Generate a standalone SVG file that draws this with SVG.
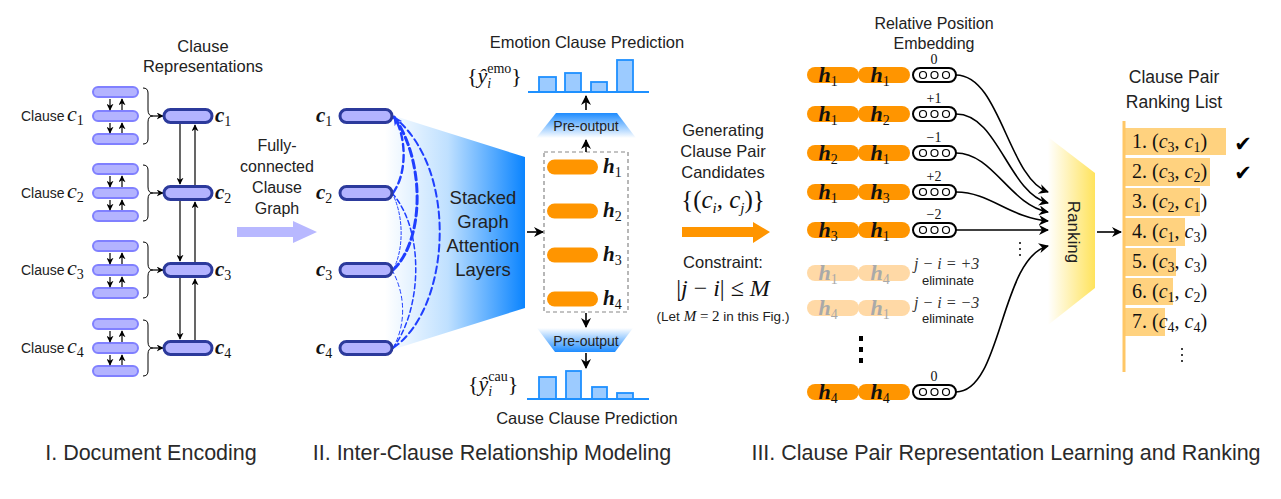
<svg xmlns="http://www.w3.org/2000/svg" width="1281" height="499" viewBox="0 0 1281 499">
<style>
.sans{font-family:"Liberation Sans",Arial,sans-serif;fill:#222}
.serif{font-family:"Liberation Serif","Times New Roman",serif;fill:#111}
.it{font-style:italic}
.bi{font-style:italic;font-weight:bold}
.small{fill:#b3b3ff;stroke:#8080ff;stroke-width:2}
.big{fill:#b3b3ff;stroke:#2c3a9c;stroke-width:3}
.ar{fill:none;stroke:#000;stroke-width:1.2;marker-end:url(#ah)}
.ar2{fill:none;stroke:#000;stroke-width:1.6;marker-end:url(#ah2)}
.dash{fill:none;stroke:#1f3fff;stroke-linecap:round}
.opill{fill:#ff9500}
.fpill{fill:#ffd9a6}
.emb{fill:#fff;stroke:#000;stroke-width:2}
.dot{fill:#fff;stroke:#000;stroke-width:1.2}
.bar{fill:#9ccbff;stroke:#1e90ff;stroke-width:1.8}
.rbar{fill:#ffd27f}
</style>
<defs>
<marker id="ah" viewBox="0 0 10 10" refX="9" refY="5" markerWidth="7" markerHeight="7" markerUnits="userSpaceOnUse" orient="auto"><path d="M0,0 L10,5 L0,10 L3,5 z" fill="#000"/></marker>
<marker id="ah2" viewBox="0 0 10 10" refX="9" refY="5" markerWidth="10" markerHeight="10" markerUnits="userSpaceOnUse" orient="auto"><path d="M0,0 L10,5 L0,10 L3,5 z" fill="#000"/></marker>
<marker id="ahb" viewBox="0 0 10 10" refX="9" refY="5" markerWidth="9" markerHeight="9" markerUnits="userSpaceOnUse" orient="auto"><path d="M0,0 L10,5 L0,10 L3,5 z" fill="#1f3fff"/></marker>
<linearGradient id="gat" gradientUnits="userSpaceOnUse" x1="385" y1="0" x2="525" y2="0"><stop offset="0" stop-color="#ffffff"/><stop offset="0.45" stop-color="#bfe0ff"/><stop offset="1" stop-color="#0a84ff"/></linearGradient>
<linearGradient id="preT" x1="0" y1="0" x2="0" y2="1"><stop offset="0" stop-color="#1e8cff"/><stop offset="1" stop-color="#ffffff"/></linearGradient>
<linearGradient id="preB" x1="0" y1="0" x2="0" y2="1"><stop offset="0" stop-color="#ffffff"/><stop offset="1" stop-color="#1e8cff"/></linearGradient>
<linearGradient id="rk" x1="0" y1="0" x2="1" y2="0"><stop offset="0" stop-color="#ffffff"/><stop offset="1" stop-color="#ffe35c"/></linearGradient>
</defs>

<!-- Section I -->
<g id="clause-rep-title">
<text class="sans" x="203" y="52" font-size="16.5" text-anchor="middle">Clause</text>
<text class="sans" x="203" y="72" font-size="16.5" text-anchor="middle">Representations</text>
</g>
<g id="clause1">
<text class="sans" x="21" y="121" font-size="14">Clause</text>
<text class="serif it" x="67" y="121" font-size="22">c<tspan font-size="14" font-style="normal" dy="4">1</tspan></text>
<rect class="small" x="93" y="87" width="45" height="10" rx="5"/>
<rect class="small" x="93" y="111" width="45" height="10" rx="5"/>
<rect class="small" x="93" y="134" width="45" height="10" rx="5"/>
<path class="ar" d="M110,99 V110"/><path class="ar" d="M122,110 V99"/>
<path class="ar" d="M110,123 V133"/><path class="ar" d="M122,133 V123"/>
<path d="M143,88 q5,0 5,5 v17 q0,6 5,6 q-5,0 -5,6 v17 q0,5 -5,5" fill="none" stroke="#000" stroke-width="1"/>
<path class="ar" d="M153,116 H163"/>
</g>
<g id="clause2">
<text class="sans" x="21" y="198" font-size="14">Clause</text>
<text class="serif it" x="67" y="198" font-size="22">c<tspan font-size="14" font-style="normal" dy="4">2</tspan></text>
<rect class="small" x="93" y="164" width="45" height="10" rx="5"/>
<rect class="small" x="93" y="188" width="45" height="10" rx="5"/>
<rect class="small" x="93" y="211" width="45" height="10" rx="5"/>
<path class="ar" d="M110,176 V187"/><path class="ar" d="M122,187 V176"/>
<path class="ar" d="M110,200 V210"/><path class="ar" d="M122,210 V200"/>
<path d="M143,165 q5,0 5,5 v17 q0,6 5,6 q-5,0 -5,6 v17 q0,5 -5,5" fill="none" stroke="#000" stroke-width="1"/>
<path class="ar" d="M153,193 H163"/>
</g>
<g id="clause3">
<text class="sans" x="21" y="275" font-size="14">Clause</text>
<text class="serif it" x="67" y="275" font-size="22">c<tspan font-size="14" font-style="normal" dy="4">3</tspan></text>
<rect class="small" x="93" y="241" width="45" height="10" rx="5"/>
<rect class="small" x="93" y="265" width="45" height="10" rx="5"/>
<rect class="small" x="93" y="288" width="45" height="10" rx="5"/>
<path class="ar" d="M110,253 V264"/><path class="ar" d="M122,264 V253"/>
<path class="ar" d="M110,277 V287"/><path class="ar" d="M122,287 V277"/>
<path d="M143,242 q5,0 5,5 v17 q0,6 5,6 q-5,0 -5,6 v17 q0,5 -5,5" fill="none" stroke="#000" stroke-width="1"/>
<path class="ar" d="M153,270 H163"/>
</g>
<g id="clause4">
<text class="sans" x="21" y="353" font-size="14">Clause</text>
<text class="serif it" x="67" y="353" font-size="22">c<tspan font-size="14" font-style="normal" dy="4">4</tspan></text>
<rect class="small" x="93" y="319" width="45" height="10" rx="5"/>
<rect class="small" x="93" y="343" width="45" height="10" rx="5"/>
<rect class="small" x="93" y="366" width="45" height="10" rx="5"/>
<path class="ar" d="M110,331 V342"/><path class="ar" d="M122,342 V331"/>
<path class="ar" d="M110,355 V365"/><path class="ar" d="M122,365 V355"/>
<path d="M143,320 q5,0 5,5 v17 q0,6 5,6 q-5,0 -5,6 v17 q0,5 -5,5" fill="none" stroke="#000" stroke-width="1"/>
<path class="ar" d="M153,348 H163"/>
</g>
<g id="rep-nodes">
<rect class="big" x="164" y="109.5" width="48" height="13" rx="6.5"/>
<rect class="big" x="164" y="186.5" width="48" height="13" rx="6.5"/>
<rect class="big" x="164" y="263.5" width="48" height="13" rx="6.5"/>
<rect class="big" x="164" y="341.5" width="48" height="13" rx="6.5"/>
<text class="serif bi" x="215" y="122" font-size="21">c<tspan font-size="14" font-weight="normal" font-style="normal" dy="4">1</tspan></text>
<text class="serif bi" x="215" y="199" font-size="21">c<tspan font-size="14" font-weight="normal" font-style="normal" dy="4">2</tspan></text>
<text class="serif bi" x="215" y="276" font-size="21">c<tspan font-size="14" font-weight="normal" font-style="normal" dy="4">3</tspan></text>
<text class="serif bi" x="215" y="354" font-size="21">c<tspan font-size="14" font-weight="normal" font-style="normal" dy="4">4</tspan></text>
</g>
<g id="rep-connectors">
<path class="ar" d="M180,124 V184"/><path class="ar" d="M195,185 V125"/>
<path class="ar" d="M180,201 V261"/><path class="ar" d="M195,262 V202"/>
<path class="ar" d="M180,278 V339"/><path class="ar" d="M195,340 V279"/>
</g>
<g id="section1-label"><text class="sans" x="151" y="460" font-size="21.5" text-anchor="middle" style="fill:#2a2a2a">I. Document Encoding</text></g>

<!-- Fully-connected arrow -->
<g id="fc-arrow">
<text class="sans" x="277" y="151" font-size="16" text-anchor="middle">Fully-</text>
<text class="sans" x="277" y="172" font-size="16" text-anchor="middle">connected</text>
<text class="sans" x="277" y="193" font-size="16" text-anchor="middle">Clause</text>
<text class="sans" x="277" y="214" font-size="16" text-anchor="middle">Graph</text>
<polygon points="237,227 293,227 293,221 317,232 293,243 293,237 237,237" fill="#b8b8ff"/>
</g>

<!-- Section II -->
<g id="gat">
<polygon points="385,113 525,157 525,308 385,352" fill="url(#gat)"/>
<text class="sans" x="483" y="204" font-size="18.5" text-anchor="middle">Stacked</text>
<text class="sans" x="483" y="228" font-size="18.5" text-anchor="middle">Graph</text>
<text class="sans" x="483" y="252" font-size="18.5" text-anchor="middle">Attention</text>
<text class="sans" x="483" y="276" font-size="18.5" text-anchor="middle">Layers</text>
</g>
<g id="graph-edges">
<path class="dash" d="M393,193 C408,172 406,135 394,117" stroke-width="2.4" stroke-dasharray="7,4" marker-end="url(#ahb)"/>
<path class="dash" d="M393,270 C425,240 425,160 394,117" stroke-width="3" stroke-dasharray="8,4"/>
<path class="dash" d="M393,348 C450,310 460,170 394,117" stroke-width="2" stroke-dasharray="7,4"/>
<path class="dash" d="M392,193 C404,215 404,250 393,270" stroke-width="1" stroke-dasharray="3,2"/>
<path class="dash" d="M392,193 C425,230 422,310 393,348" stroke-width="1.5" stroke-dasharray="5,3"/>
<path class="dash" d="M392,270 C406,295 406,325 393,348" stroke-width="1" stroke-dasharray="4,3"/>
</g>
<g id="graph-nodes">
<rect class="big" x="340" y="109.5" width="52" height="13" rx="6.5"/>
<rect class="big" x="340" y="186.5" width="52" height="13" rx="6.5"/>
<rect class="big" x="340" y="263.5" width="52" height="13" rx="6.5"/>
<rect class="big" x="340" y="341.5" width="52" height="13" rx="6.5"/>
<text class="serif bi" x="316" y="122" font-size="21">c<tspan font-size="14" font-weight="normal" font-style="normal" dy="4">1</tspan></text>
<text class="serif bi" x="316" y="199" font-size="21">c<tspan font-size="14" font-weight="normal" font-style="normal" dy="4">2</tspan></text>
<text class="serif bi" x="316" y="276" font-size="21">c<tspan font-size="14" font-weight="normal" font-style="normal" dy="4">3</tspan></text>
<text class="serif bi" x="316" y="354" font-size="21">c<tspan font-size="14" font-weight="normal" font-style="normal" dy="4">4</tspan></text>
</g>
<g id="hidden-states">
<rect x="544" y="152" width="84" height="160" fill="none" stroke="#888" stroke-width="1.2" stroke-dasharray="4,3"/>
<rect class="opill" x="547" y="159.5" width="51" height="15" rx="7.5"/>
<rect class="opill" x="547" y="203.5" width="51" height="15" rx="7.5"/>
<rect class="opill" x="547" y="247.5" width="51" height="15" rx="7.5"/>
<rect class="opill" x="547" y="291.5" width="51" height="15" rx="7.5"/>
<text class="serif bi" x="603" y="173" font-size="21">h<tspan font-size="14" font-weight="normal" font-style="normal" dy="4">1</tspan></text>
<text class="serif bi" x="603" y="217" font-size="21">h<tspan font-size="14" font-weight="normal" font-style="normal" dy="4">2</tspan></text>
<text class="serif bi" x="603" y="261" font-size="21">h<tspan font-size="14" font-weight="normal" font-style="normal" dy="4">3</tspan></text>
<text class="serif bi" x="603" y="305" font-size="21">h<tspan font-size="14" font-weight="normal" font-style="normal" dy="4">4</tspan></text>
</g>
<g id="emotion-pred">
<text class="sans" x="587" y="48" font-size="16.5" text-anchor="middle">Emotion Clause Prediction</text>
<text class="serif" x="467" y="83" font-size="22">{<tspan font-style="italic">ŷ</tspan><tspan font-size="14" font-style="italic" dy="5">i</tspan><tspan font-size="14" dx="-4" dy="-15">emo</tspan><tspan dy="10">}</tspan></text>
<rect class="bar" x="539" y="77" width="17" height="15"/>
<rect class="bar" x="565" y="73" width="16" height="19"/>
<rect class="bar" x="591" y="82" width="16" height="10"/>
<rect class="bar" x="617" y="60" width="16" height="32"/>
<line x1="528" y1="92" x2="649" y2="92" stroke="#1e90ff" stroke-width="2"/>
<polygon points="556,113 617,113 636,138 536,138" fill="url(#preT)"/>
<text class="sans" x="586" y="131" font-size="14" text-anchor="middle">Pre-output</text>
</g>
<g id="cause-pred">
<polygon points="537,328 633,328 615,352 555,352" fill="url(#preB)"/>
<text class="sans" x="586" y="346" font-size="14" text-anchor="middle">Pre-output</text>
<text class="serif" x="468" y="391" font-size="22">{<tspan font-style="italic">ŷ</tspan><tspan font-size="14" font-style="italic" dy="5">i</tspan><tspan font-size="14" dx="-4" dy="-15">cau</tspan><tspan dy="10">}</tspan></text>
<rect class="bar" x="539" y="377" width="17" height="22"/>
<rect class="bar" x="566" y="371" width="15" height="28"/>
<rect class="bar" x="592" y="387" width="15" height="12"/>
<rect class="bar" x="617" y="393" width="16" height="6"/>
<line x1="527" y1="399" x2="649" y2="399" stroke="#1e90ff" stroke-width="2"/>
<text class="sans" x="587" y="424" font-size="16.5" text-anchor="middle">Cause Clause Prediction</text>
</g>
<g id="section2-connectors">
<path class="ar2" d="M527,232 H543"/>
<path class="ar2" d="M586,152 V140"/>
<path class="ar2" d="M586,110 V96"/>
<path class="ar2" d="M586,313 V327"/>
<path class="ar2" d="M586,353 V368"/>
</g>
<g id="section2-label"><text class="sans" x="492" y="460" font-size="21.5" text-anchor="middle" style="fill:#2a2a2a">II. Inter-Clause Relationship Modeling</text></g>

<!-- Generating -->
<g id="generating">
<text class="sans" x="723" y="136" font-size="16.5" text-anchor="middle">Generating</text>
<text class="sans" x="723" y="157" font-size="16.5" text-anchor="middle">Clause Pair</text>
<text class="sans" x="723" y="178" font-size="16.5" text-anchor="middle">Candidates</text>
<text class="serif" x="723" y="208" font-size="25" text-anchor="middle">{(<tspan font-style="italic">c</tspan><tspan font-size="15" font-style="italic" dy="5">i</tspan><tspan dy="-5">, </tspan><tspan font-style="italic">c</tspan><tspan font-size="15" font-style="italic" dy="5">j</tspan><tspan dy="-5">)}</tspan></text>
<polygon points="682,227 753,227 753,222 770,232 753,243 753,237 682,237" fill="#ff9500"/>
<text class="sans" x="723" y="268" font-size="16.5" text-anchor="middle">Constraint:</text>
<text class="serif" x="723" y="296" font-size="24" text-anchor="middle">|<tspan font-style="italic">j</tspan> − <tspan font-style="italic">i</tspan>| ≤ <tspan font-style="italic">M</tspan></text>
<text class="sans" x="723" y="321" font-size="13.5" text-anchor="middle">(Let <tspan class="serif" font-style="italic" font-size="15">M</tspan> <tspan class="serif" font-size="15">= 2</tspan> in this Fig.)</text>
</g>

<!-- Section III -->
<g id="rpe-title">
<text class="sans" x="934" y="29" font-size="16" text-anchor="middle">Relative Position</text>
<text class="sans" x="934" y="49" font-size="16" text-anchor="middle">Embedding</text>
</g>
<g id="pair1">
<rect class="opill" x="807" y="67" width="52" height="16" rx="8"/><rect class="opill" x="858" y="67" width="52" height="16" rx="8"/>
<text class="serif bi" x="828" y="82" font-size="22" text-anchor="middle">h<tspan font-size="14" font-weight="normal" font-style="normal" dy="4">1</tspan></text>
<text class="serif bi" x="880" y="82" font-size="22" text-anchor="middle">h<tspan font-size="14" font-weight="normal" font-style="normal" dy="4">1</tspan></text>
<rect class="emb" x="913" y="68" width="43" height="14" rx="7"/><circle class="dot" cx="923" cy="75" r="3.5"/><circle class="dot" cx="934.5" cy="75" r="3.5"/><circle class="dot" cx="946" cy="75" r="3.5"/>
<text class="serif" x="934" y="64" font-size="14" text-anchor="middle">0</text>
</g>
<g id="pair2">
<rect class="opill" x="807" y="106" width="52" height="16" rx="8"/><rect class="opill" x="858" y="106" width="52" height="16" rx="8"/>
<text class="serif bi" x="828" y="121" font-size="22" text-anchor="middle">h<tspan font-size="14" font-weight="normal" font-style="normal" dy="4">1</tspan></text>
<text class="serif bi" x="880" y="121" font-size="22" text-anchor="middle">h<tspan font-size="14" font-weight="normal" font-style="normal" dy="4">2</tspan></text>
<rect class="emb" x="913" y="107" width="43" height="14" rx="7"/><circle class="dot" cx="923" cy="114" r="3.5"/><circle class="dot" cx="934.5" cy="114" r="3.5"/><circle class="dot" cx="946" cy="114" r="3.5"/>
<text class="serif" x="934" y="103" font-size="14" text-anchor="middle">+1</text>
</g>
<g id="pair3">
<rect class="opill" x="807" y="145" width="52" height="16" rx="8"/><rect class="opill" x="858" y="145" width="52" height="16" rx="8"/>
<text class="serif bi" x="828" y="160" font-size="22" text-anchor="middle">h<tspan font-size="14" font-weight="normal" font-style="normal" dy="4">2</tspan></text>
<text class="serif bi" x="880" y="160" font-size="22" text-anchor="middle">h<tspan font-size="14" font-weight="normal" font-style="normal" dy="4">1</tspan></text>
<rect class="emb" x="913" y="146" width="43" height="14" rx="7"/><circle class="dot" cx="923" cy="153" r="3.5"/><circle class="dot" cx="934.5" cy="153" r="3.5"/><circle class="dot" cx="946" cy="153" r="3.5"/>
<text class="serif" x="934" y="142" font-size="14" text-anchor="middle">−1</text>
</g>
<g id="pair4">
<rect class="opill" x="807" y="184" width="52" height="16" rx="8"/><rect class="opill" x="858" y="184" width="52" height="16" rx="8"/>
<text class="serif bi" x="828" y="199" font-size="22" text-anchor="middle">h<tspan font-size="14" font-weight="normal" font-style="normal" dy="4">1</tspan></text>
<text class="serif bi" x="880" y="199" font-size="22" text-anchor="middle">h<tspan font-size="14" font-weight="normal" font-style="normal" dy="4">3</tspan></text>
<rect class="emb" x="913" y="185" width="43" height="14" rx="7"/><circle class="dot" cx="923" cy="192" r="3.5"/><circle class="dot" cx="934.5" cy="192" r="3.5"/><circle class="dot" cx="946" cy="192" r="3.5"/>
<text class="serif" x="934" y="181" font-size="14" text-anchor="middle">+2</text>
</g>
<g id="pair5">
<rect class="opill" x="807" y="222" width="52" height="16" rx="8"/><rect class="opill" x="858" y="222" width="52" height="16" rx="8"/>
<text class="serif bi" x="828" y="237" font-size="22" text-anchor="middle">h<tspan font-size="14" font-weight="normal" font-style="normal" dy="4">3</tspan></text>
<text class="serif bi" x="880" y="237" font-size="22" text-anchor="middle">h<tspan font-size="14" font-weight="normal" font-style="normal" dy="4">1</tspan></text>
<rect class="emb" x="913" y="223" width="43" height="14" rx="7"/><circle class="dot" cx="923" cy="230" r="3.5"/><circle class="dot" cx="934.5" cy="230" r="3.5"/><circle class="dot" cx="946" cy="230" r="3.5"/>
<text class="serif" x="934" y="219" font-size="14" text-anchor="middle">−2</text>
</g>
<g id="pair6-eliminated">
<rect class="fpill" x="807" y="265" width="52" height="16" rx="8"/><rect class="fpill" x="858" y="265" width="52" height="16" rx="8"/>
<text class="serif bi" x="828" y="280" font-size="22" text-anchor="middle" style="fill:#a9a9a9">h<tspan font-size="14" font-weight="normal" font-style="normal" dy="4">1</tspan></text>
<text class="serif bi" x="880" y="280" font-size="22" text-anchor="middle" style="fill:#a9a9a9">h<tspan font-size="14" font-weight="normal" font-style="normal" dy="4">4</tspan></text>
<text class="serif it" x="914" y="269" font-size="16" style="fill:#333">j − i = +3</text>
<text class="sans" x="948" y="285" font-size="13" text-anchor="middle">eliminate</text>
</g>
<g id="pair7-eliminated">
<rect class="fpill" x="807" y="300" width="52" height="16" rx="8"/><rect class="fpill" x="858" y="300" width="52" height="16" rx="8"/>
<text class="serif bi" x="828" y="315" font-size="22" text-anchor="middle" style="fill:#a9a9a9">h<tspan font-size="14" font-weight="normal" font-style="normal" dy="4">4</tspan></text>
<text class="serif bi" x="880" y="315" font-size="22" text-anchor="middle" style="fill:#a9a9a9">h<tspan font-size="14" font-weight="normal" font-style="normal" dy="4">1</tspan></text>
<text class="serif it" x="914" y="308" font-size="16" style="fill:#333">j − i = −3</text>
<text class="sans" x="948" y="323" font-size="13" text-anchor="middle">eliminate</text>
</g>
<g id="vdots">
<rect x="859" y="336" width="4" height="5" fill="#000"/><rect x="859" y="347" width="4" height="5" fill="#000"/><rect x="859" y="358" width="4" height="5" fill="#000"/>
<circle cx="1020" cy="243" r="1" fill="#000"/><circle cx="1020" cy="249" r="1" fill="#000"/><circle cx="1020" cy="255" r="1" fill="#000"/>
</g>
<g id="pair8">
<rect class="opill" x="807" y="384" width="52" height="16" rx="8"/><rect class="opill" x="858" y="384" width="52" height="16" rx="8"/>
<text class="serif bi" x="828" y="399" font-size="22" text-anchor="middle">h<tspan font-size="14" font-weight="normal" font-style="normal" dy="4">4</tspan></text>
<text class="serif bi" x="880" y="399" font-size="22" text-anchor="middle">h<tspan font-size="14" font-weight="normal" font-style="normal" dy="4">4</tspan></text>
<rect class="emb" x="913" y="385" width="43" height="14" rx="7"/><circle class="dot" cx="923" cy="392" r="3.5"/><circle class="dot" cx="934.5" cy="392" r="3.5"/><circle class="dot" cx="946" cy="392" r="3.5"/>
<text class="serif" x="934" y="381" font-size="14" text-anchor="middle">0</text>
</g>
<g id="ranking">
<polygon points="1048,137 1095,173 1095,288 1048,325" fill="url(#rk)"/>
<text class="sans" x="1073" y="232" font-size="17" text-anchor="middle" dominant-baseline="central" transform="rotate(90 1073 232)">Ranking</text>
</g>
<g id="pair-connectors">
<path class="ar2" d="M956,75 C1000,75 1008,178 1048,192"/>
<path class="ar2" d="M956,114 C998,114 1008,192 1048,203"/>
<path class="ar2" d="M956,153 C993,153 1010,205 1048,212"/>
<path class="ar2" d="M956,192 C990,192 1010,218 1048,221"/>
<path class="ar2" d="M956,230 H1048"/>
<path class="ar2" d="M956,392 C1002,392 1000,258 1048,246"/>
<path class="ar2" d="M1097,232 H1121"/>
</g>
<g id="ranking-list">
<text class="sans" x="1174" y="83" font-size="17.5" text-anchor="middle">Clause Pair</text>
<text class="sans" x="1174" y="108" font-size="17.5" text-anchor="middle">Ranking List</text>
<rect class="rbar" x="1124" y="128" width="102" height="27"/>
<rect class="rbar" x="1124" y="158" width="86" height="28"/>
<rect class="rbar" x="1124" y="188" width="76" height="28"/>
<rect class="rbar" x="1124" y="218" width="61" height="28"/>
<rect class="rbar" x="1124" y="248" width="52" height="28"/>
<rect class="rbar" x="1124" y="278" width="49" height="27"/>
<rect class="rbar" x="1124" y="308" width="41" height="28"/>
<line x1="1124" y1="121" x2="1124" y2="372" stroke="#ffc766" stroke-width="3"/>
<text class="serif" x="1132" y="148" font-size="20">1. (<tspan font-style="italic">c</tspan><tspan font-size="14" dy="4">3</tspan><tspan dy="-4">, </tspan><tspan font-style="italic">c</tspan><tspan font-size="14" dy="4">1</tspan><tspan dy="-4">)</tspan></text>
<text class="serif" x="1132" y="178" font-size="20">2. (<tspan font-style="italic">c</tspan><tspan font-size="14" dy="4">3</tspan><tspan dy="-4">, </tspan><tspan font-style="italic">c</tspan><tspan font-size="14" dy="4">2</tspan><tspan dy="-4">)</tspan></text>
<text class="serif" x="1132" y="208" font-size="20">3. (<tspan font-style="italic">c</tspan><tspan font-size="14" dy="4">2</tspan><tspan dy="-4">, </tspan><tspan font-style="italic">c</tspan><tspan font-size="14" dy="4">1</tspan><tspan dy="-4">)</tspan></text>
<text class="serif" x="1132" y="238" font-size="20">4. (<tspan font-style="italic">c</tspan><tspan font-size="14" dy="4">1</tspan><tspan dy="-4">, </tspan><tspan font-style="italic">c</tspan><tspan font-size="14" dy="4">3</tspan><tspan dy="-4">)</tspan></text>
<text class="serif" x="1132" y="268" font-size="20">5. (<tspan font-style="italic">c</tspan><tspan font-size="14" dy="4">3</tspan><tspan dy="-4">, </tspan><tspan font-style="italic">c</tspan><tspan font-size="14" dy="4">3</tspan><tspan dy="-4">)</tspan></text>
<text class="serif" x="1132" y="298" font-size="20">6. (<tspan font-style="italic">c</tspan><tspan font-size="14" dy="4">1</tspan><tspan dy="-4">, </tspan><tspan font-style="italic">c</tspan><tspan font-size="14" dy="4">2</tspan><tspan dy="-4">)</tspan></text>
<text class="serif" x="1132" y="328" font-size="20">7. (<tspan font-style="italic">c</tspan><tspan font-size="14" dy="4">4</tspan><tspan dy="-4">, </tspan><tspan font-style="italic">c</tspan><tspan font-size="14" dy="4">4</tspan><tspan dy="-4">)</tspan></text>
<circle cx="1182" cy="349" r="1" fill="#000"/><circle cx="1182" cy="355" r="1" fill="#000"/><circle cx="1182" cy="361" r="1" fill="#000"/>
<text x="1243" y="151" font-family="DejaVu Sans,sans-serif" font-size="21" text-anchor="middle" fill="#000">✔</text>
<text x="1243" y="180" font-family="DejaVu Sans,sans-serif" font-size="21" text-anchor="middle" fill="#000">✔</text>
</g>
<g id="section3-label"><text class="sans" x="1006" y="460" font-size="21.5" text-anchor="middle" style="fill:#2a2a2a">III. Clause Pair Representation Learning and Ranking</text></g>
</svg>
